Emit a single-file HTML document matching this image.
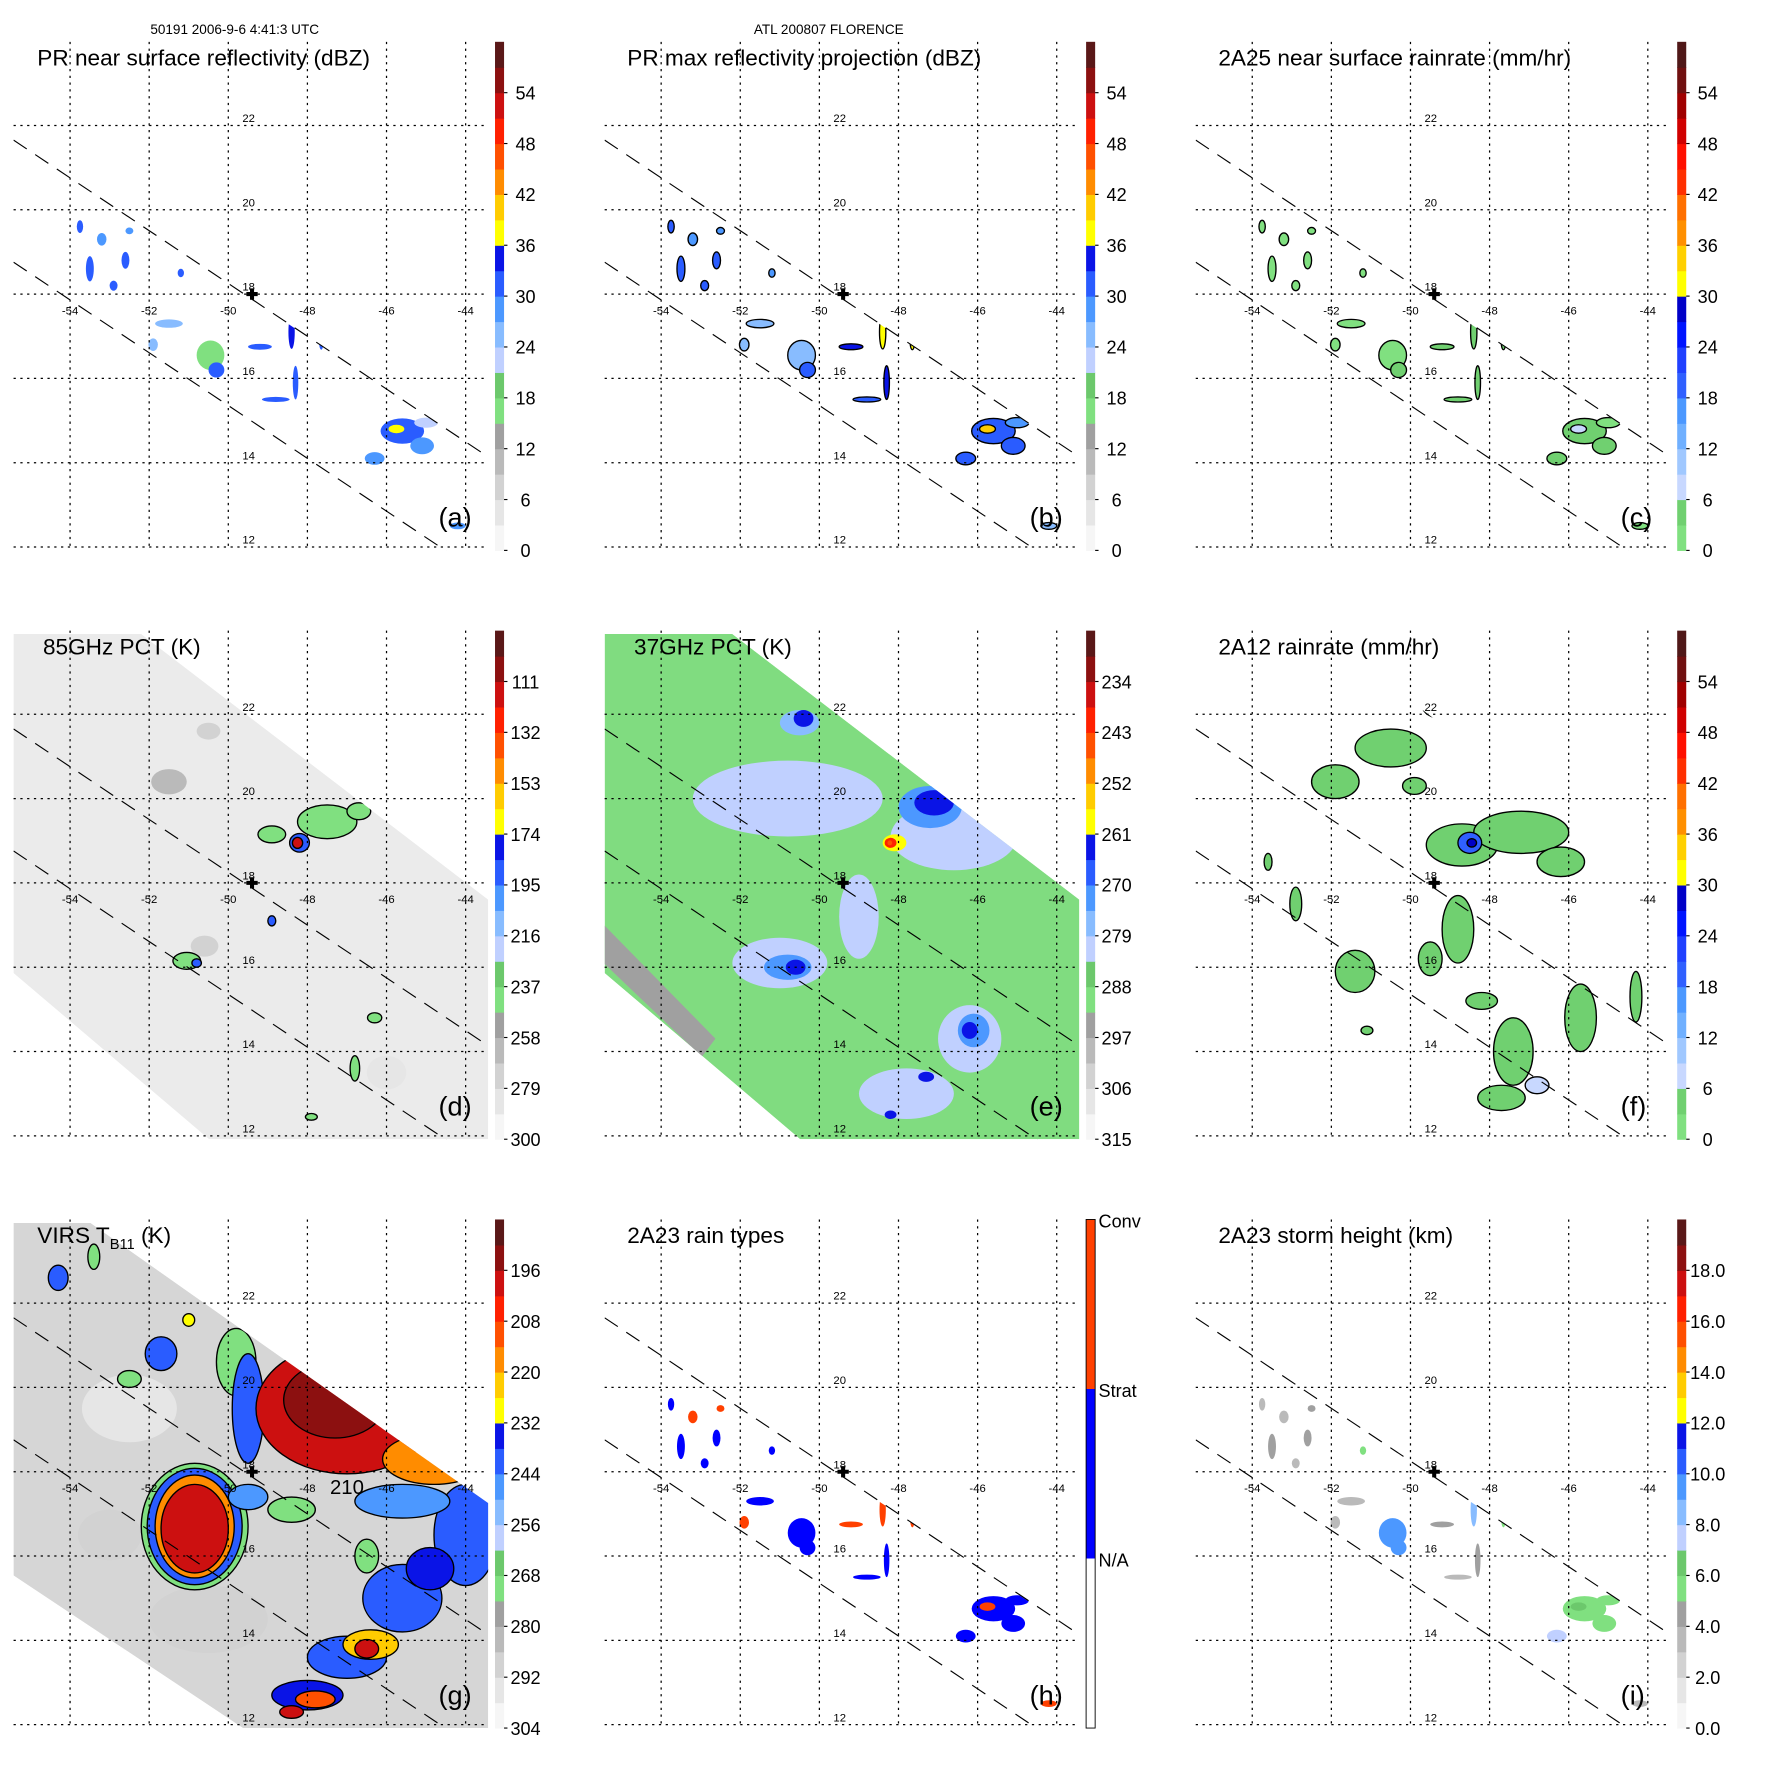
<!DOCTYPE html>
<html><head><meta charset="utf-8"><title>TRMM FLORENCE</title>
<style>html,body{margin:0;padding:0;background:#fff}svg{display:block}text{font-family:"Liberation Sans",sans-serif}</style>
</head><body>
<svg id="fig" xmlns="http://www.w3.org/2000/svg" width="1771" height="1771" viewBox="0 0 1567 1567"></svg>
<script>
// ---------- data ----------
const lonTicks=[-54,-52,-50,-48,-46,-44];
const latTicks=[22,20,18,16,14,12];
const labelsA=['0','6','12','18','24','30','36','42','48','54'];
const labelsD=['300','279','258','237','216','195','174','153','132','111'];
const labelsE=['315','306','297','288','279','270','261','252','243','234'];
const labelsG=['304','292','280','268','256','244','232','220','208','196'];
const labelsI=['0.0','2.0','4.0','6.0','8.0','10.0','12.0','14.0','16.0','18.0'];
const palA=['#f6f6f6','#e6e6e6','#d2d2d2','#bababa','#a0a0a0','#80e080','#6cc86c','#c0d0ff','#88bcff','#4c98ff','#2a5cff','#0a14e6','#ffff00','#ffcc00','#ff8c00','#ff5000','#ff2000','#cc1010','#8c1010','#5a1818'];
const palC=['#80e080','#70d070','#c8d8ff','#a0c8ff','#70b0ff','#4c98ff','#3060ff','#2040ff','#0014ff','#0000c8','#ffff00','#ffd000','#ff9000','#ff7000','#ff3000','#ff1000','#d00000','#a00000','#701010','#501818'];
// PR features: lon, lat, extent lon, extent lat
const prLon=[-45.6,-45.75,-45.1,-46.3,-45.0,-50.45,-50.3,-49.2,-48.4,-48.8,-48.3,-47.65,-47.25,-53.5,-53.2,-52.6,-53.75,-52.5,-51.2,-51.5,-51.9,-46.4,-44.2,-54.6,-52.9];
const prLat=[14.75,14.8,14.4,14.1,14.95,16.55,16.2,16.75,17.1,15.5,15.9,16.9,16.75,18.6,19.3,18.8,19.6,19.5,18.5,17.3,16.8,16.6,12.5,21.6,18.2];
const prDx=[0.55,0.2,0.3,0.25,0.3,0.35,0.2,0.3,0.08,0.35,0.07,0.06,0.06,0.1,0.12,0.1,0.08,0.1,0.08,0.35,0.12,0.08,0.2,0.06,0.1];
const prDy=[0.3,0.1,0.2,0.15,0.12,0.35,0.18,0.07,0.4,0.06,0.4,0.22,0.2,0.3,0.15,0.2,0.15,0.08,0.1,0.1,0.15,0.1,0.08,0.08,0.12];
const nearSurfDbz=[30,37,27,29,22,16,32,30,33,30,30,32,30,30,28,30,31,27,30,24,24,31,27,28,30];
const maxDbz=[32,40,30,30,28,25,30,34,38,32,33,36,34,30,28,30,31,27,29,26,25,30,25,28,30];
const rainRate=[3,8,3,3,2,2,4,4,5,3,3,4,3,2,2,2,2,2,2,1,1,2,1,1,2];
const rainType=[1,2,1,1,1,1,1,2,2,1,1,2,1,1,2,1,1,2,1,1,2,1,2,2,1];
const stormHt=[5.5,6,5,7.5,5.5,9,9.5,4,8,3.5,4,5,5,4,3.5,4,3.5,4,5,3,3,4,3,3.5,3.5];
// 85 GHz PCT features (value on colour scale 0-60)
const d85=[[-51.5,20.4,0.45,0.3,9],[-50.6,16.5,0.35,0.25,8],[-50.5,21.6,0.3,0.2,7],[-46,13.5,0.5,0.4,5],
 [-47.5,19.45,0.75,0.4,16],[-48.9,19.15,0.35,0.2,16],[-46.7,19.7,0.3,0.2,16],[-48.2,18.95,0.25,0.22,30],[-48.25,18.95,0.13,0.13,52],
 [-51.05,16.15,0.35,0.2,16],[-50.8,16.1,0.12,0.1,30],[-46.3,14.8,0.18,0.12,16],[-46.8,13.6,0.12,0.3,16],[-47.9,12.45,0.15,0.08,16],[-48.9,17.1,0.1,0.12,30]];
// 37 GHz PCT features
const e37=[[-50.8,20.0,2.4,0.9,22],[-46.6,19.1,1.6,0.8,22],[-51.0,16.1,1.2,0.6,22],[-46.2,14.3,0.8,0.8,22],[-47.8,13.0,1.2,0.6,22],[-49.0,17.2,0.5,1.0,22],
 [-50.5,21.8,0.5,0.3,26],[-47.2,19.8,0.8,0.5,27],[-50.8,16.0,0.6,0.3,27],[-46.1,14.5,0.4,0.4,27],
 [-50.4,21.9,0.25,0.2,34],[-47.1,19.9,0.5,0.3,34],[-50.6,16.0,0.25,0.18,34],[-46.2,14.5,0.2,0.2,33],[-48.2,12.5,0.15,0.1,33],[-47.3,13.4,0.2,0.12,33],
 [-48.1,18.95,0.3,0.2,37],[-48.2,18.95,0.15,0.12,50],[-48.22,18.95,0.06,0.06,45]];
// 2A12 rain features
const f12=[[-50.5,21.2,0.9,0.45,3],[-51.9,20.4,0.6,0.4,3],[-48.7,18.9,0.9,0.5,3],[-47.2,19.2,1.2,0.5,3],[-48.5,18.95,0.3,0.25,20],[-48.45,18.95,0.12,0.1,27],
 [-48.8,16.9,0.4,0.8,3],[-51.4,15.9,0.5,0.5,3],[-49.5,16.2,0.3,0.4,3],[-47.4,14.0,0.5,0.8,3],[-45.7,14.8,0.4,0.8,3],[-44.3,15.3,0.15,0.6,3],
 [-47.7,12.9,0.6,0.3,3],[-51.1,14.5,0.15,0.1,3],[-46.2,18.5,0.6,0.35,3],[-49.2,22.2,0.5,0.3,3],[-52.9,17.5,0.15,0.4,3],[-46.8,13.2,0.3,0.2,8],
 [-48.2,15.2,0.4,0.2,3],[-49.9,20.3,0.3,0.2,3],[-53.6,18.5,0.1,0.2,3]];
// VIRS TB11 features
const gIR=[[-52.5,19.5,1.2,0.8,4],[-50.5,14.5,1.5,0.8,7],[-53,16.5,0.8,0.6,8],
 [-49.8,20.6,0.5,0.8,17],[-49.5,19.5,0.4,1.3,31],[-47.0,19.5,2.3,1.55,51],[-47.3,19.7,1.3,0.9,56],
 [-44.8,18.3,1.3,0.6,43],[-44.5,18.4,0.5,0.25,38],[-44.0,16.5,0.8,1.2,31],[-45.6,17.3,1.2,0.4,28],
 [-50.85,16.7,1.35,1.5,17],[-50.85,16.7,1.2,1.38,31],[-50.85,16.7,1.0,1.22,43],[-50.85,16.65,0.85,1.05,51],
 [-49.5,17.4,0.5,0.3,27],[-48.4,17.1,0.6,0.3,17],[-46.5,16.0,0.3,0.4,17],
 [-45.6,15.0,1.0,0.8,30],[-44.9,15.7,0.6,0.5,35],[-47.0,13.6,1.0,0.5,31],[-48.0,12.7,0.9,0.35,33],[-47.8,12.6,0.5,0.2,46],[-46.4,13.9,0.7,0.35,40],[-46.5,13.8,0.3,0.22,51],[-48.4,12.3,0.3,0.15,51],
 [-51.7,20.8,0.4,0.4,30],[-52.5,20.2,0.3,0.2,17],[-54.3,22.6,0.25,0.3,30],[-53.4,23.1,0.15,0.3,17],[-51.0,21.6,0.15,0.15,38]];

// ---------- layout ----------
const colOff=[0,523,1046], rowOff=[0,521,1042];
const NS='http://www.w3.org/2000/svg';
const svg=document.getElementById('fig');
function el(tag,attrs,parent){const e=document.createElementNS(NS,tag);for(const k in attrs)e.setAttribute(k,attrs[k]);(parent||svg).appendChild(e);return e;}
function xL(lon){return 62+(lon+54)*35;}
function yL(lat){return 484-(lat-12)*37.3;}
function colA(v){return palA[Math.max(0,Math.min(19,Math.floor(v/3)))];}
function colC(v){return palC[Math.max(0,Math.min(19,Math.floor(v/3)))];}

const prBand='12,124 432,405 432,487 394,487 12,232';
const tmiPoly='12,40 125,40 432,275 432,487 185,487 12,340';
const virsPoly='12,40 80,40 432,288 432,487 215,487 12,352';

function panel(p){
  const g=el('g',{transform:'translate('+colOff[p.col]+','+rowOff[p.row]+')'});
  
  
  const cid='clip'+p.key;
  const cp=el('clipPath',{id:cid},g);
  el('polygon',{points:p.poly},cp);
  const cr=el('clipPath',{id:cid+'r'},g);
  el('rect',{x:12,y:37,width:420,height:450},cr);
  const data=el('g',{'clip-path':'url(#'+cid+')'},g);
  
  
  if(p.base) el('polygon',{points:p.poly,fill:p.base},data);
  if(p.extra) p.extra(data);
  p.feats.forEach(f=>{
    const e=el('ellipse',{cx:xL(f[0]),cy:yL(f[1]),rx:Math.max(1.5,f[2]*35),ry:Math.max(1.5,f[3]*37.3),fill:p.cmap(f[4])},data);
    if(p.contour && f[4]>=(p.cthr||0)){e.setAttribute('stroke','#000');e.setAttribute('stroke-width','1.2');}
    
    
  });
  // grid
  const gr=el('g',{stroke:'#000','stroke-width':1.1,'stroke-dasharray':'2,4'},g);
  
  
  lonTicks.forEach(l=>el('line',{x1:xL(l),y1:37,x2:xL(l),y2:487},gr));
  latTicks.forEach(l=>el('line',{x1:12,y1:yL(l),x2:432,y2:yL(l)},gr));
  // swath edges
  const sw=el('g',{stroke:'#000','stroke-width':1,'stroke-dasharray':'14,9','clip-path':'url(#'+cid+'r)'},g);
  
  
  el('line',{x1:12,y1:124,x2:460,y2:423},sw);
  el('line',{x1:12,y1:232,x2:400,y2:491},sw);
  // tick labels
  latTicks.forEach(l=>{const t=el('text',{x:220,y:yL(l)-3,'font-size':10,'text-anchor':'middle'},g);t.textContent=String(l);
    });
  lonTicks.forEach(l=>{const t=el('text',{x:xL(l),y:yL(18)+18,'font-size':10,'text-anchor':'middle'},g);t.textContent=String(l);
    });
  // storm centre
  const cx=xL(-49.4), cy=yL(18);
  const cross=el('path',{d:`M${cx-5} ${cy-1.8}h10v3.6h-10zM${cx-1.8} ${cy-5}h3.6v10h-3.6z`,fill:'#000'},g);
  
  
  // title
  const tt=el('text',{x:p.tx,y:58,'font-size':20},g);
  
  
  if(p.titleHTML){tt.innerHTML=p.titleHTML;} else tt.textContent=p.title;
  const lt=el('text',{x:388,y:466,'font-size':24},g);lt.textContent=p.letter;
  
  
  // colorbar
  const cb=el('g',{},g);
  
  
  if(p.key==='h'){
    el('rect',{x:438,y:37,width:8,height:150,fill:'#ff4000'},cb);
    el('rect',{x:438,y:187,width:8,height:150,fill:'#0000ff'},cb);
    el('rect',{x:438,y:337,width:8,height:150,fill:'#fff'},cb);
    el('rect',{x:438,y:37,width:8,height:450,fill:'none',stroke:'#000','stroke-width':0.8},cb);
    [['Conv',37],['Strat',187],['N/A',337]].forEach(a=>{const t=el('text',{x:449,y:a[1]+7,'font-size':16},cb);t.textContent=a[0];
      });
  } else {
    p.pal.forEach((c,i)=>el('rect',{x:438,y:487-(i+1)*22.5,width:8,height:23,fill:c},cb));
    p.labels.forEach((s,i)=>{const y=487-i*45;
      el('line',{x1:446,y1:y,x2:449,y2:y,stroke:'#000','stroke-width':1},cb);
      const t=el('text',{x:465,y:y+6,'font-size':16,'text-anchor':'middle'},cb);t.textContent=s;
      });
  }
}
function prFeats(vals){return prLon.map((l,i)=>[l,prLat[i],prDx[i],prDy[i],vals[i]]);}

const hdr1=el('text',{x:133,y:30,'font-size':12});hdr1.textContent='50191 2006-9-6 4:41:3 UTC';

const hdr2=el('text',{x:667,y:30,'font-size':12});hdr2.textContent='ATL 200807 FLORENCE';


panel({key:'a',name:'panel-a-pr-near-surface',col:0,row:0,tx:33,title:'PR near surface reflectivity (dBZ)',letter:'(a)',poly:prBand,pal:palA,labels:labelsA,cmap:colA,feats:prFeats(nearSurfDbz)});
panel({key:'b',name:'panel-b-pr-max-reflectivity',col:1,row:0,tx:32,title:'PR max reflectivity projection (dBZ)',letter:'(b)',poly:prBand,pal:palA,labels:labelsA,cmap:colA,contour:true,feats:prFeats(maxDbz)});
panel({key:'c',name:'panel-c-2a25-rainrate',col:2,row:0,tx:32,title:'2A25 near surface rainrate (mm/hr)',letter:'(c)',poly:prBand,pal:palC,labels:labelsA,cmap:colC,contour:true,feats:prFeats(rainRate)});
panel({key:'d',name:'panel-d-85ghz-pct',col:0,row:1,tx:38,title:'85GHz PCT (K)',letter:'(d)',poly:tmiPoly,base:'#ebebeb',pal:palA,labels:labelsD,cmap:colA,contour:true,cthr:15,feats:d85});
panel({key:'e',name:'panel-e-37ghz-pct',col:1,row:1,tx:38,title:'37GHz PCT (K)',letter:'(e)',poly:tmiPoly,base:'#80dc80',pal:palA,labels:labelsE,cmap:colA,feats:e37,
  extra:g=>el('polygon',{points:'12,298 110,398 98,414 12,332',fill:'#a0a0a0'},g)});
panel({key:'f',name:'panel-f-2a12-rainrate',col:2,row:1,tx:32,title:'2A12 rainrate (mm/hr)',letter:'(f)',poly:tmiPoly,pal:palC,labels:labelsA,cmap:colC,contour:true,feats:f12});
panel({key:'g',name:'panel-g-virs-tb11',col:0,row:2,tx:33,titleHTML:'VIRS T<tspan font-size="13" dy="5">B11</tspan><tspan dy="-5"> (K)</tspan>',letter:'(g)',poly:virsPoly,base:'#d6d6d6',pal:palA,labels:labelsG,cmap:colA,contour:true,cthr:15,feats:gIR});
panel({key:'h',name:'panel-h-2a23-rain-type',col:1,row:2,tx:32,title:'2A23 rain types',letter:'(h)',poly:prBand,labels:[],cmap:v=>v===2?'#ff4000':'#0000ff',feats:prFeats(rainType)});
panel({key:'i',name:'panel-i-2a23-storm-height',col:2,row:2,tx:32,title:'2A23 storm height (km)',letter:'(i)',poly:prBand,pal:palA,labels:labelsI,cmap:v=>colA(v*3),feats:prFeats(stormHt)});
const t210=el('text',{x:292,y:1322,'font-size':18});t210.textContent='210';

</script>
</body></html>
